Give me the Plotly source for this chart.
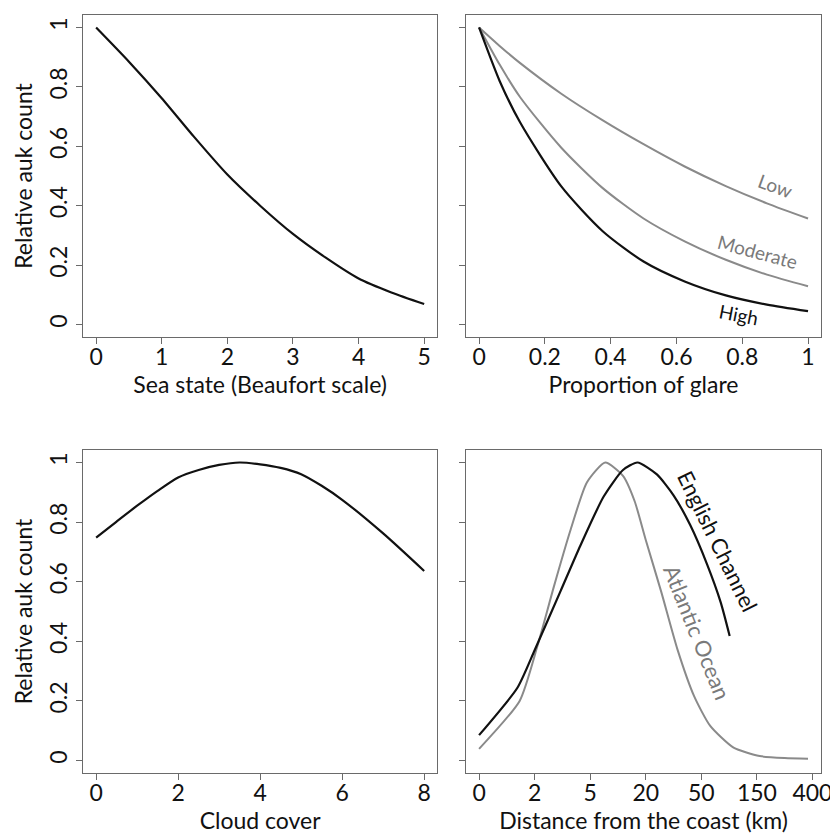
import plotly.graph_objects as go

# ---------------- data ----------------
# Panel A: sea state
sea_state = [0, 0.5, 1, 1.5, 2, 2.5, 3, 3.5, 4, 4.5, 5]
sea_rel = [1.0, 0.885, 0.762, 0.630, 0.505, 0.400, 0.305, 0.225, 0.155, 0.108, 0.069]

# Panel B: glare
glare = [0, 0.0625, 0.125, 0.25, 0.375, 0.5, 0.625, 0.75, 0.875, 1.0]
glare_low = [1.0, 0.938, 0.88, 0.777, 0.688, 0.607, 0.532, 0.466, 0.408, 0.357]
glare_moderate = [1.0, 0.875, 0.765, 0.595, 0.46, 0.357, 0.28, 0.218, 0.168, 0.129]
glare_high = [1.0, 0.82, 0.68, 0.465, 0.315, 0.212, 0.145, 0.098, 0.067, 0.045]

# Panel C: cloud cover
cloud = [0, 0.5, 1, 1.5, 2, 2.5, 3, 3.5, 4, 4.5, 5, 5.5, 6, 7, 8]
cloud_rel = [0.748, 0.802, 0.855, 0.905, 0.95, 0.975, 0.992, 1.0, 0.994, 0.982, 0.961, 0.922, 0.875, 0.762, 0.636]

# Panel D: distance from coast (positions on the transformed distance axis)
dist_tick_labels = ["0", "2", "5", "20", "50", "150", "400"]
channel_pos = [0, 0.69, 1.0, 1.47, 1.82, 2.24, 2.59, 2.85, 3.2, 3.5, 3.8, 4.1, 4.35, 4.51]
channel_rel = [0.085, 0.244, 0.37, 0.57, 0.72, 0.885, 0.975, 1.0, 0.96, 0.89, 0.79, 0.66, 0.53, 0.418]
atlantic_pos = [0, 0.73, 1.05, 1.35, 1.65, 1.94, 2.27, 2.59, 2.8, 3.0, 3.28, 3.57, 3.87, 4.16, 4.58, 5.05, 5.5, 5.92]
atlantic_rel = [0.039, 0.2, 0.384, 0.586, 0.776, 0.933, 1.0, 0.955, 0.87, 0.74, 0.565, 0.373, 0.216, 0.116, 0.043, 0.015, 0.008, 0.006]

y_ticks = [0, 0.2, 0.4, 0.6, 0.8, 1]
y_tick_text = ["0", "0.2", "0.4", "0.6", "0.8", "1"]

# ---------------- styling ----------------
FONT = "Lato, 'Open Sans', sans-serif"
FS = 23
BLACK = "#111111"
GREY = "#8a8a8a"
GREY_TXT = "#7a7a7a"
FRAME = "#6a6a6a"
W, H = 838, 833


def px_x(a, b):
    return [a / W, b / W]


def px_y(top, bottom):
    return [1 - bottom / H, 1 - top / H]


fig = go.Figure()

line_black = dict(color=BLACK, width=2.2, shape="spline", smoothing=0.7)
line_grey = dict(color=GREY, width=2, shape="spline", smoothing=0.7)

fig.add_trace(go.Scatter(x=sea_state, y=sea_rel, mode="lines", line=line_black,
                         xaxis="x", yaxis="y", showlegend=False))
fig.add_trace(go.Scatter(x=glare, y=glare_low, mode="lines", line=line_grey,
                         xaxis="x2", yaxis="y2", showlegend=False, name="Low"))
fig.add_trace(go.Scatter(x=glare, y=glare_moderate, mode="lines", line=line_grey,
                         xaxis="x2", yaxis="y2", showlegend=False, name="Moderate"))
fig.add_trace(go.Scatter(x=glare, y=glare_high, mode="lines", line=line_black,
                         xaxis="x2", yaxis="y2", showlegend=False, name="High"))
fig.add_trace(go.Scatter(x=cloud, y=cloud_rel, mode="lines", line=line_black,
                         xaxis="x3", yaxis="y3", showlegend=False))
fig.add_trace(go.Scatter(x=atlantic_pos, y=atlantic_rel, mode="lines",
                         line=dict(color=GREY, width=2, shape="spline", smoothing=0.6),
                         xaxis="x4", yaxis="y4", showlegend=False, name="Atlantic Ocean"))
fig.add_trace(go.Scatter(x=channel_pos, y=channel_rel, mode="lines",
                         line=dict(color=BLACK, width=2.2, shape="spline", smoothing=0.6),
                         xaxis="x4", yaxis="y4", showlegend=False, name="English Channel"))

axis_common = dict(showline=True, mirror=True, linecolor=FRAME, linewidth=1.2,
                   ticks="outside", ticklen=6, tickwidth=1, tickcolor=FRAME,
                   showgrid=False, zeroline=False,
                   tickfont=dict(family=FONT, size=FS, color=BLACK))
title_font = dict(family=FONT, size=FS, color=BLACK)

xd_left = px_x(76, 435)
xd_right = px_x(464, 824)
yd_top = px_y(7, 329)
yd_bot = px_y(442, 765)

yrange = [-0.042, 1.042]
XSO = -7  # x tick label standoff

layout_axes = dict(
    xaxis=dict(axis_common, domain=xd_left, anchor="y", range=[-0.2, 5.2],
               tickvals=[0, 1, 2, 3, 4, 5], ticklabelstandoff=XSO,
               title=dict(text="Sea state (Beaufort scale)", font=title_font, standoff=2)),
    yaxis=dict(axis_common, domain=yd_top, anchor="x", range=yrange,
               tickvals=y_ticks, ticktext=y_tick_text, tickangle=-90, ticklabelstandoff=0,
               title=dict(text="Relative auk count", font=title_font, standoff=4)),
    xaxis2=dict(axis_common, domain=xd_right, anchor="y2", range=[-0.04, 1.04],
                tickvals=[0, 0.2, 0.4, 0.6, 0.8, 1], ticktext=["0", "0.2", "0.4", "0.6", "0.8", "1"],
                ticklabelstandoff=XSO,
                title=dict(text="Proportion of glare", font=title_font, standoff=2)),
    yaxis2=dict(axis_common, domain=yd_top, anchor="x2", range=yrange,
                tickvals=y_ticks, showticklabels=False),
    xaxis3=dict(axis_common, domain=xd_left, anchor="y3", range=[-0.32, 8.32],
                tickvals=[0, 2, 4, 6, 8], ticklabelstandoff=XSO,
                title=dict(text="Cloud cover", font=title_font, standoff=0)),
    yaxis3=dict(axis_common, domain=yd_bot, anchor="x3", range=yrange,
                tickvals=y_ticks, ticktext=y_tick_text, tickangle=-90, ticklabelstandoff=0,
                title=dict(text="Relative auk count", font=title_font, standoff=4)),
    xaxis4=dict(axis_common, domain=xd_right, anchor="y4", range=[-0.237, 6.157],
                tickvals=list(range(len(dist_tick_labels))), ticktext=dist_tick_labels,
                ticklabelstandoff=XSO,
                title=dict(text="Distance from the coast (km)", font=title_font, standoff=0)),
    yaxis4=dict(axis_common, domain=yd_bot, anchor="x4", range=yrange,
                tickvals=y_ticks, showticklabels=False),
)

annotations = [
    dict(x=0.9, y=0.468, xref="x2", yref="y2", text="Low", showarrow=False,
         textangle=20, font=dict(family=FONT, size=19, color=GREY_TXT)),
    dict(x=0.847, y=0.247, xref="x2", yref="y2", text="Moderate", showarrow=False,
         textangle=15, font=dict(family=FONT, size=19, color=GREY_TXT)),
    dict(x=0.79, y=0.033, xref="x2", yref="y2", text="High", showarrow=False,
         textangle=11, font=dict(family=FONT, size=19, color=BLACK)),
    dict(x=4.3, y=0.735, xref="x4", yref="y4", text="English Channel", showarrow=False,
         textangle=64, font=dict(family=FONT, size=22, color=BLACK)),
    dict(x=3.93, y=0.43, xref="x4", yref="y4", text="Atlantic Ocean", showarrow=False,
         textangle=68, font=dict(family=FONT, size=22, color=GREY_TXT)),
]

fig.update_layout(
    width=W, height=H,
    margin=dict(l=0, r=0, t=0, b=0),
    paper_bgcolor="white", plot_bgcolor="white",
    font=dict(family=FONT, size=FS, color=BLACK),
    annotations=annotations,
    **layout_axes,
)

fig.write_html("out.html")
